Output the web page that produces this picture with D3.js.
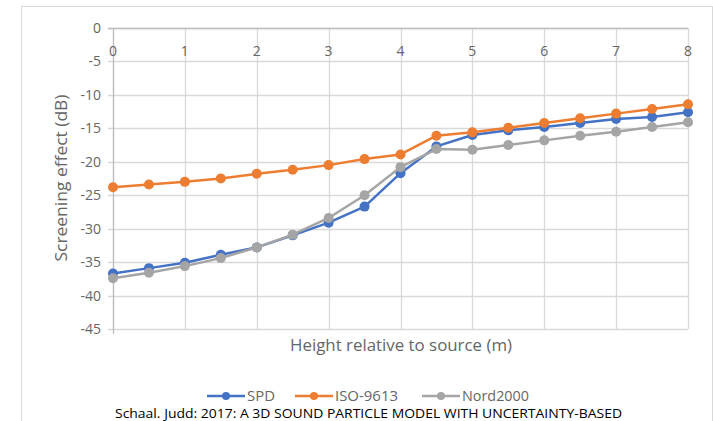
<!DOCTYPE html>
<html>
<head>
<meta charset="utf-8">
<script src="https://d3js.org/d3.v7.min.js"></script>
<style>
  body { margin: 0; background: #fff; }
  text { font-family: "Open Sans", sans-serif; }
</style>
</head>
<body>
<script>
// heights (m) along the x axis
var heights = [0, 0.5, 1, 1.5, 2, 2.5, 3, 3.5, 4, 4.5, 5, 5.5, 6, 6.5, 7, 7.5, 8];

// screening effect in dB
var spd      = [-36.7, -35.9, -35.1, -33.9, -32.8, -31.0, -29.1, -26.7, -21.7, -17.7, -16.0, -15.3, -14.8, -14.2, -13.6, -13.3, -12.6];
var iso9613  = [-23.8, -23.4, -23.0, -22.5, -21.8, -21.2, -20.5, -19.6, -18.9, -16.1, -15.6, -14.9, -14.2, -13.5, -12.8, -12.1, -11.4];
var nord2000 = [-37.4, -36.6, -35.6, -34.4, -32.8, -30.9, -28.4, -25.0, -20.8, -18.1, -18.2, -17.5, -16.8, -16.1, -15.5, -14.8, -14.1];

var xTicks = [0, 1, 2, 3, 4, 5, 6, 7, 8];
var yTicks = [0, -5, -10, -15, -20, -25, -30, -35, -40, -45];

var seriesNames = ["SPD", "ISO-9613", "Nord2000"];
var seriesColors = ["#4472c4", "#ed7d31", "#a5a5a5"];
var seriesValues = [spd, iso9613, nord2000];

var W = 713, H = 421;
var svg = d3.select("body").append("svg")
    .attr("width", W).attr("height", H);

// chart frame
svg.append("path")
    .attr("d", "M21.5," + H + "V6.5H712.5V" + H)
    .attr("fill", "none").attr("stroke", "#d9d9d9");

var x = d3.scaleLinear().domain([0, 8]).range([113, 688]);
var y = d3.scaleLinear().domain([0, -45]).range([28, 329]);

var grid = svg.append("g");
grid.selectAll("line.h").data(yTicks).enter().append("line")
    .attr("x1", 108).attr("x2", 688)
    .attr("y1", d => Math.round(y(d)) + 0.5).attr("y2", d => Math.round(y(d)) + 0.5)
    .attr("stroke", "#d9d9d9").attr("stroke-width", 1.3);
grid.selectAll("line.v").data(xTicks).enter().append("line")
    .attr("x1", d => Math.round(x(d)) + 0.5).attr("x2", d => Math.round(x(d)) + 0.5)
    .attr("y1", 28).attr("y2", 329)
    .attr("stroke", "#d9d9d9").attr("stroke-width", 1.3);

// axis lines
svg.append("line").attr("x1", 108).attr("x2", 688)
    .attr("y1", Math.round(y(0)) + 0.5).attr("y2", Math.round(y(0)) + 0.5)
    .attr("stroke", "#bfbfbf").attr("stroke-width", 1.3);
svg.append("line").attr("x1", 113.5).attr("x2", 113.5)
    .attr("y1", 28).attr("y2", 334)
    .attr("stroke", "#bfbfbf").attr("stroke-width", 1.3);

// y tick labels
svg.append("g").selectAll("text").data(yTicks).enter().append("text")
    .attr("x", 101).attr("y", d => y(d) + 5)
    .attr("text-anchor", "end")
    .attr("font-size", 14).attr("fill", "#666")
    .text(d => d);

// x tick labels (axis crosses at 0, labels sit just under it)
svg.append("g").selectAll("text").data(xTicks).enter().append("text")
    .attr("x", d => x(d)).attr("y", 56)
    .attr("text-anchor", "middle")
    .attr("font-size", 14).attr("fill", "#666")
    .text(d => d);

// axis titles
svg.append("text")
    .attr("transform", "translate(67,178) rotate(-90)")
    .attr("text-anchor", "middle")
    .attr("font-size", 16).attr("fill", "#666")
    .attr("textLength", 167).attr("lengthAdjust", "spacingAndGlyphs")
    .text("Screening effect (dB)");
svg.append("text")
    .attr("x", 401).attr("y", 351)
    .attr("text-anchor", "middle")
    .attr("font-size", 16).attr("fill", "#666")
    .attr("textLength", 222).attr("lengthAdjust", "spacingAndGlyphs")
    .text("Height relative to source (m)");

// series
var line = d3.line().x((d, i) => x(heights[i])).y(d => y(d));
seriesValues.forEach(function (vals, k) {
  var g = svg.append("g");
  g.append("path").datum(vals)
      .attr("d", line)
      .attr("fill", "none")
      .attr("stroke", seriesColors[k])
      .attr("stroke-width", 2.5)
      .attr("stroke-linejoin", "round");
  g.selectAll("circle").data(vals).enter().append("circle")
      .attr("cx", (d, i) => x(heights[i]))
      .attr("cy", d => y(d))
      .attr("r", 5)
      .attr("fill", seriesColors[k]);
});

// legend
var legendX = [207, 295, 422];
var legendW = [28, 63, 67];
var legend = svg.append("g");
seriesNames.forEach(function (name, k) {
  var lx = legendX[k], ly = 396;
  legend.append("line")
      .attr("x1", lx).attr("x2", lx + 38)
      .attr("y1", ly).attr("y2", ly)
      .attr("stroke", seriesColors[k]).attr("stroke-width", 2.5);
  legend.append("circle")
      .attr("cx", lx + 19).attr("cy", ly).attr("r", 4)
      .attr("fill", seriesColors[k]);
  legend.append("text")
      .attr("x", lx + 40).attr("y", ly + 5)
      .attr("font-size", 14).attr("fill", "#666")
      .attr("textLength", legendW[k]).attr("lengthAdjust", "spacingAndGlyphs")
      .text(name);
});

// source caption
svg.append("text")
    .attr("x", 115).attr("y", 418)
    .attr("font-size", 12.5).attr("fill", "#000")
    .attr("textLength", 507).attr("lengthAdjust", "spacingAndGlyphs")
    .text("Schaal. Judd: 2017: A 3D SOUND PARTICLE MODEL WITH UNCERTAINTY-BASED");
</script>
</body>
</html>
